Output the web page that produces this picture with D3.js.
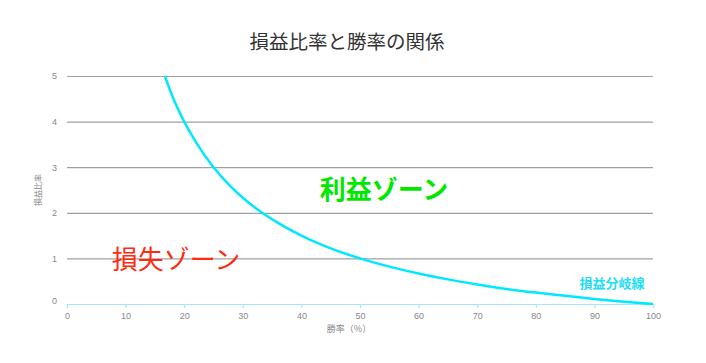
<!DOCTYPE html>
<html>
<head>
<meta charset="utf-8">
<script src="https://cdn.jsdelivr.net/npm/d3@7"></script>
<style>
  body { margin: 0; background: #fff; }
  svg { display: block; font-family: "Noto Sans CJK JP", "Noto Sans", sans-serif; }
</style>
</head>
<body>
<div id="chart"></div>
<script>
const width = 706;
const height = 363;
const marginLeft = 67;
const marginRight = 53;
const marginTop = 76;
const marginBottom = 59;

// win rate (%) and break-even risk/reward ratio
const winRates = [16.7, 18, 20, 22, 25, 28, 30, 33.3, 36, 40, 45, 50, 55, 60, 65, 70, 75, 80, 85, 90, 95, 100];
const ratios = [5, 4.55, 4.0, 3.55, 3.0, 2.57, 2.33, 2.0, 1.78, 1.5, 1.22, 1.0, 0.82, 0.67, 0.54, 0.43, 0.33, 0.25, 0.18, 0.11, 0.05, 0];

const xTicks = [0, 10, 20, 30, 40, 50, 60, 70, 80, 90, 100];
const yTicks = [0, 1, 2, 3, 4, 5];

const curveColor = '#00e8ff';
const axisColor = '#a8e4ff';

const points = winRates.map((w, i) => ({ w, r: ratios[i] }));

const svg = d3
  .select('#chart')
  .append('svg')
  .attr('width', width)
  .attr('height', height);

const xScale = d3
  .scaleLinear()
  .domain([0, 100])
  .range([marginLeft, width - marginRight]);

const yScale = d3
  .scaleLinear()
  .domain([0, 5])
  .range([height - marginBottom, marginTop]);

// gridlines + y labels
const yAxis = d3
  .axisLeft(yScale)
  .tickValues(yTicks)
  .tickFormat(d3.format('d'))
  .tickSize(-(width - marginLeft - marginRight))
  .tickPadding(10);

const gy = svg
  .append('g')
  .attr('transform', `translate(${marginLeft},0)`)
  .call(yAxis);
gy.select('.domain').remove();
gy.selectAll('.tick line')
  .attr('stroke', '#a0a0a0')
  .attr('stroke-width', 1.2)
  .attr('stroke-opacity', (d) => (d === 0 ? 0 : 1));
gy.selectAll('.tick text')
  .attr('fill', '#888')
  .attr('font-size', 9)
  .attr('dy', (d) => (d === 0 ? '-0.1em' : '0.32em'));

// x axis
const xAxis = d3.axisBottom(xScale).tickValues(xTicks).tickSize(4).tickPadding(5);
const gx = svg
  .append('g')
  .attr('transform', `translate(0,${height - marginBottom})`)
  .call(xAxis);
gx.select('.domain').attr('stroke', axisColor).attr('stroke-width', 1.2);
gx.selectAll('.tick line').attr('stroke', axisColor).attr('stroke-width', 1.2);
gx.selectAll('.tick text').attr('fill', '#888').attr('font-size', 9);

// curve
const line = d3
  .line()
  .x((d) => xScale(d.w))
  .y((d) => yScale(d.r))
  .curve(d3.curveMonotoneX);

svg
  .append('path')
  .datum(points)
  .attr('fill', 'none')
  .attr('stroke', curveColor)
  .attr('stroke-width', 2.5)
  .attr('d', line);

// title
svg
  .append('text')
  .attr('x', 347)
  .attr('y', 49)
  .attr('text-anchor', 'middle')
  .attr('font-size', 19.5)
  .attr('fill', '#333')
  .text('損益比率と勝率の関係');

// axis titles
svg
  .append('text')
  .attr('x', 349)
  .attr('y', 332)
  .attr('text-anchor', 'middle')
  .attr('font-size', 9)
  .attr('fill', '#888')
  .text('勝率（%）');

svg
  .append('text')
  .attr('transform', 'translate(41,190) rotate(-90)')
  .attr('text-anchor', 'middle')
  .attr('font-size', 8)
  .attr('fill', '#888')
  .text('損益比率');

// zone labels
svg
  .append('text')
  .attr('x', 384)
  .attr('y', 199)
  .attr('text-anchor', 'middle')
  .attr('font-size', 26)
  .attr('font-weight', 'bold')
  .attr('fill', '#00e800')
  .text('利益ゾーン');

svg
  .append('text')
  .attr('x', 176)
  .attr('y', 269)
  .attr('text-anchor', 'middle')
  .attr('font-size', 26)
  .attr('fill', '#ff2a10')
  .text('損失ゾーン');

svg
  .append('text')
  .attr('x', 612)
  .attr('y', 288)
  .attr('text-anchor', 'middle')
  .attr('font-size', 13)
  .attr('font-weight', 'bold')
  .attr('fill', '#22ddf5')
  .text('損益分岐線');
</script>
</body>
</html>
